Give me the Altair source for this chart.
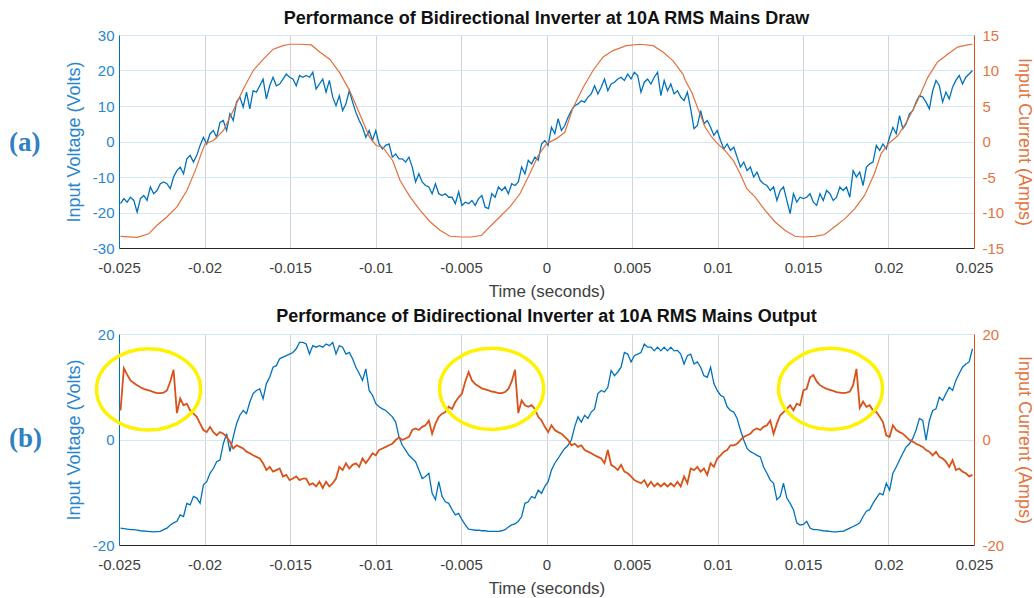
import altair as alt
import numpy as np
import pandas as pd

# ---------------- data ----------------
X_TICKS = [-0.025, -0.02, -0.015, -0.01, -0.005, 0, 0.005, 0.01, 0.015, 0.02, 0.025]
A_VOLT_TICKS = [-30, -20, -10, 0, 10, 20, 30]
A_AMP_TICKS = [-15, -10, -5, 0, 5, 10, 15]
B_TICKS = [-20, 0, 20]

# (a) input voltage, evenly sampled from -0.02491 s to 0.02491 s
a_voltage = [
    -17.5, -16.1, -17.1, -15.7, -16.6, -19.9, -16.1, -15.2, -16.6, -12.8,
    -14.7, -13.8, -11.9, -11.4, -11.9, -13.3, -10.0, -8.2, -7.2, -9.1,
    -4.9, -3.9, -5.8, -3.9, -1.1, 1.2, -0.7, 2.2, 3.1, 1.2,
    5.4, 5.9, 3.1, 7.8, 5.9, 11.1, 12.5, 9.7, 13.9, 9.2,
    14.3, 13.9, 15.7, 17.6, 12.0, 15.7, 18.1, 15.7, 16.2, 17.6,
    19.0, 18.1, 17.6, 15.7, 18.6, 18.1, 18.6, 18.1, 19.5, 14.8,
    16.2, 17.6, 13.9, 17.2, 12.5, 10.1, 12.9, 8.7, 10.6, 14.3,
    11.1, 8.2, 5.9, 4.0, 1.2, 3.1, 0.3, 3.1, -0.7, -2.1,
    -1.1, -0.7, -4.4, -3.5, -4.9,
    -4.9, -5.8, -4.4, -7.2, -11.4, -9.1, -11.4, -12.4, -12.8, -14.7,
    -11.9, -14.7, -15.2, -14.7, -15.7, -15.7, -17.5, -14.2, -18.0, -17.1,
    -17.5, -16.6, -18.0, -16.1, -15.2, -18.5, -18.9, -14.7, -15.7, -12.8,
    -13.8, -12.8, -14.7, -11.9, -12.4, -11.4, -7.2, -9.1, -5.3, -6.3,
    -4.4, -5.3, -0.7, 0.3, -1.1, 4.0, 2.2, 6.4, 3.1, 4.5,
    6.8, 8.7, 10.1, 10.6, 11.5, 11.1, 12.5, 13.4, 15.7, 13.4,
    15.3, 17.6, 14.3, 16.2, 16.7, 17.6, 18.1, 17.2, 19.0, 17.6,
    19.5, 18.6, 13.9, 16.7, 17.6, 16.2, 18.1, 19.5, 12.9, 17.2,
    14.3, 16.2, 13.4, 14.3, 12.5, 11.5,
    13.9, 9.2, 3.6, 4.5, 8.7, 5.0, 5.9, 4.0, 1.7, 3.1,
    0.3, -2.1, -0.7, -2.5, -1.6, -4.4, -7.2, -5.8, -8.2, -7.2,
    -10.0, -8.6, -11.0, -11.9, -12.4, -13.8, -12.8, -16.6, -13.8, -12.8,
    -16.6,
    -20.3, -14.7, -17.1, -15.7, -16.1, -15.7, -14.7, -17.1, -18.0, -14.7,
    -16.6, -13.8, -14.7, -16.6, -15.7, -12.8, -13.8, -12.8, -15.7, -8.2,
    -10.0, -8.6, -12.4, -7.2, -6.3, -5.8, -1.1, -2.5, -0.7, -2.1,
    1.2, 4.0, 2.2, 7.3, 3.6, 5.0, 7.8, 8.7, 11.1, 12.9,
    12.5, 11.1, 9.2, 14.3, 17.2, 15.7, 11.1, 13.9, 12.0, 15.3,
    17.2, 18.6, 16.2, 18.1, 19.0, 20.0,
]

# (a) input current, sampled at these times (ms)
a_current_ms = [
    -24.91, -23.94, -23.26, -22.78, -22.19, -21.61, -21.03, -20.54, -20.16, -19.96,
    -19.48, -18.89, -18.31, -17.73, -17.15, -16.56, -15.98, -15.40, -15.01, -14.43,
    -13.75, -13.26, -12.68, -12.10, -11.52, -10.93, -10.35, -9.96, -9.57, -8.99,
    -8.56, -7.98, -7.39, -6.81, -6.23, -5.64, -5.02, -4.38, -3.79, -3.31,
    -2.72, -2.14, -1.56, -0.97, -0.49, 0.0, 0.58, 1.07, 1.56, 2.14,
    2.72, 3.31, 3.89, 4.67, 5.45, 6.23, 6.81, 7.39, 7.98, 8.12,
    8.50, 8.89, 9.28, 9.67, 10.0, 10.45, 10.93, 11.32, 11.71, 12.19,
    12.78, 13.36, 13.94, 14.52, 15.01, 15.69, 16.27, 16.85, 17.44, 18.02,
    18.60, 19.18, 19.57, 20.0, 20.54, 21.12, 21.71, 22.29, 22.87, 23.46,
    24.04, 24.62, 24.91,
]
a_current = [
    -13.35, -13.5, -13.0, -11.8, -10.6, -9.2, -6.9, -4.1, -1.5, -0.3,
    0.14, 1.55, 4.4, 7.4, 10.0, 11.6, 13.0, 13.5, 13.7, 13.7,
    13.6, 12.6, 11.6, 9.7, 7.2, 3.9, 0.6, -0.56, -0.8, -2.7,
    -5.5, -7.8, -9.7, -11.3, -12.5, -13.35, -13.45, -13.45, -13.2, -12.0,
    -10.6, -9.2, -7.4, -4.5, -2.0, -0.3, 0.4, 1.3, 4.8, 7.6,
    10.0, 11.9, 12.8, 13.5, 13.7, 13.5, 12.6, 11.4, 9.5, 8.6,
    6.9, 4.4, 2.0, 0.6, -0.3, -1.3, -2.7, -4.5, -6.65, -7.8,
    -9.7, -11.3, -12.5, -13.35, -13.45, -13.35, -13.1, -12.0, -10.9, -9.5,
    -7.6, -4.5, -1.7, -0.3, 0.8, 3.0, 5.8, 9.0, 11.2, 12.3,
    13.3, 13.6, 13.7,
]

# (b) input voltage, evenly sampled from -0.02491 s to 0.02491 s
b_voltage = [
    -16.8, -16.9, -17.0, -17.1, -17.1, -17.2, -17.3, -17.35, -17.4, -17.45,
    -17.5, -17.45, -17.4, -17.1, -16.8, -16.2, -15.8, -15.5, -14.3, -14.6,
    -12.1, -12.4, -10.8, -11.1, -12.1, -8.6, -8.0, -6.4, -5.5, -4.2,
    -3.9, -0.8, 1.1, -2.3, 0.5, 3.0, 4.6, 5.5, 4.9, 7.1,
    8.7, 9.3, 9.6, 7.7, 10.6, 11.8, 13.7, 14.0, 15.3, 15.6,
    15.9, 16.2, 16.5, 17.2, 18.4, 18.4, 18.1, 16.2, 17.8, 17.5,
    17.8, 17.5, 18.1, 17.8, 18.4, 16.2, 17.8, 17.5, 16.2, 16.5,
    15.3, 13.7, 12.5, 11.2, 13.4, 9.3, 8.4, 6.8, 6.2, 5.8,
    5.5, 4.9, 4.3, 3.3, 0.5,
    -1.1, -2.0, -3.0, -3.6, -4.2, -5.8, -7.4, -7.0, -6.4, -10.2,
    -11.4, -8.0, -10.8, -11.8, -12.1, -13.3, -14.3, -14.0, -15.2, -16.2,
    -17.0, -17.1, -17.2, -17.2, -17.3, -17.3, -17.4, -17.4, -17.4, -17.4,
    -17.3, -17.1, -16.6, -16.2, -16.0, -15.5, -14.6, -12.1, -11.8, -10.8,
    -11.1, -9.6, -10.2, -8.9, -8.0, -5.8, -4.5, -3.6, -2.6, -1.7,
    -1.1, -0.1, 2.4, 4.3, 3.3, 4.6, 4.0, 5.2, 5.8, 8.7,
    9.3, 9.0, 9.9, 13.1, 12.1, 12.8, 13.7, 16.5, 16.2, 14.7,
    15.9, 16.2, 16.5, 18.1, 17.5, 17.5, 16.8, 17.5, 16.8, 17.5,
    16.8, 17.5, 16.8, 16.9, 16.2, 14.3,
    15.9, 16.2, 14.3, 14.7, 13.7, 12.1, 11.8, 13.7, 10.6, 9.3,
    8.4, 8.0, 6.2, 5.5, 5.2, 4.0, 1.8, -0.1, -1.7, -2.3,
    -2.6, -3.0, -3.3, -5.2, -6.4, -7.7, -8.3, -11.4, -10.8, -8.3,
    -11.1, -12.1, -13.3, -15.8, -16.2, -16.1, -15.5, -16.8, -17.1, -17.1,
    -17.2, -17.3, -17.35, -17.4, -17.5, -17.5, -17.4, -17.4, -17.1, -16.8,
    -16.5, -16.2, -15.8, -14.6, -13.6, -13.3, -12.1, -11.1, -10.2, -10.5,
    -8.3, -9.6, -6.4, -5.2, -3.9, -2.6, -1.4, -0.8, 0.2, 1.8,
    4.0, 3.6, -0.1, 3.6, 5.5, 5.8, 8.0, 7.4, 8.7, 9.9,
    9.3, 11.2, 12.5, 13.7, 14.3, 14.7, 17.2,
]

# (b) input current, same even sampling
b_current = [
    5.5, 13.5, 12.3, 11.2, 10.7, 10.3, 9.9, 9.6, 9.4, 9.2,
    9.0, 8.8, 8.8, 8.9, 9.3, 11.0, 13.2, 5.0, 7.8, 6.5,
    6.8, 5.5, 4.9, 4.3, 3.0, 1.8, 1.4, 2.4, 1.4, 0.8,
    1.4, 1.1, 0.5, -0.4, -1.7, -1.1, -1.4, -1.7, -2.3, -2.6,
    -3.0, -3.3, -3.6, -4.5, -5.8, -5.2, -6.1, -5.8, -5.5, -7.0,
    -6.7, -7.7, -7.4, -7.0, -7.7, -7.4, -7.4, -8.6, -8.3, -8.9,
    -8.0, -9.2, -8.0, -8.9, -8.3, -7.4, -5.2, -5.8, -4.5, -5.5,
    -4.8, -4.5, -5.2, -3.6, -4.5, -3.6, -2.6, -3.0, -2.0, -1.7,
    -1.4, -1.1, -0.8, -0.1, 0.4,
    -0.1, 0.2, 0.5, 1.8, 2.1, 1.8, 2.4, 2.7, 3.6, 1.1,
    3.0, 4.3, 4.9, 5.2, 6.2, 5.8, 7.1, 8.0, 8.7, 11.0,
    12.8, 11.2, 10.5, 10.1, 9.7, 9.5, 9.3, 9.1, 9.0, 8.8,
    8.8, 9.0, 9.6, 11.0, 13.2, 5.0, 7.4, 6.5, 6.2, 6.5,
    5.8, 4.3, 3.6, 2.4, 1.4, 2.7, 1.8, 1.4, 1.1, 0.5,
    -0.1, -1.1, -0.8, -1.4, -1.1, -2.0, -2.3, -2.6, -3.0, -3.3,
    -3.6, -4.5, -2.0, -4.8, -5.2, -5.8, -4.8, -6.1, -6.4, -7.0,
    -7.7, -8.0, -8.3, -7.7, -8.9, -8.0, -8.9, -8.3, -8.9, -8.3,
    -8.9, -8.3, -8.9, -8.0, -8.9, -7.0,
    -8.3, -5.5, -5.8, -5.2, -6.1, -5.5, -6.7, -4.5, -5.2, -3.6,
    -3.0, -2.3, -2.0, -1.1, -1.1, -0.8, -0.1, 0.5, 0.8, 1.1,
    1.8, 2.1, 1.8, 2.4, 2.7, 3.6, 1.1, 3.0, 4.6, 5.2,
    5.8, 6.5, 5.5, 6.8, 6.5, 9.3, 9.6, 11.8, 12.2, 11.0,
    10.3, 9.9, 9.6, 9.4, 9.2, 9.0, 8.9, 8.8, 8.9, 9.1,
    10.3, 13.4, 6.0, 7.2, 6.2, 6.5, 5.5, 5.2, 4.3, 3.3,
    0.8, 0.5, 2.7, 1.8, 1.4, 1.1, 0.5, -0.1, -0.4, -0.8,
    -1.1, -1.4, -2.0, -2.3, -3.0, -2.3, -3.3, -3.6, -4.2, -5.2,
    -3.9, -5.8, -5.5, -6.1, -6.4, -7.0, -6.7,
]

# yellow highlight ellipses in (b): centre time (s), centre current (A)
ell_t = [-0.02327, -0.00321, 0.01661]
ell_i = [9.5, 9.6, 9.6]

# ---------------- styling ----------------
BLUE = "#0072BD"
ORANGE = "#D95319"
ORANGE_THIN = "#E2703C"
BLUE_TXT = "#2A86CC"
ORANGE_TXT = "#E4743E"
AX_TXT = "#404040"
FONT = "Liberation Sans"

t_grid = np.linspace(-0.02491, 0.02491, len(a_voltage))
df_av = pd.DataFrame({"t": t_grid, "v": a_voltage})
df_ai = pd.DataFrame({"t": np.array(a_current_ms) / 1000.0, "i": a_current})
t_grid_b = np.linspace(-0.02491, 0.02491, len(b_voltage))
df_bv = pd.DataFrame({"t": t_grid_b, "v": b_voltage})
df_bi = pd.DataFrame({"t": t_grid_b, "i": b_current})
df_e = pd.DataFrame({"t": ell_t, "i": ell_i})
one = pd.DataFrame({"k": [0]})

ELLIPSE = "M -1 0 A 1 0.78 0 1 1 1 0 A 1 0.78 0 1 1 -1 0 Z"


def x_enc():
    return alt.X(
        "t:Q",
        scale=alt.Scale(domain=[-0.025, 0.025], nice=False, zero=False),
        axis=alt.Axis(
            values=X_TICKS, title="Time (seconds)", labelExpr="'' + datum.value",
            grid=True, gridColor="#D4D4D4", gridWidth=1, ticks=False,
            domainColor="#262626", labelColor=AX_TXT, titleColor=AX_TXT,
            labelFontSize=15, titleFontSize=17, titleFontWeight="normal",
            labelPadding=12, titlePadding=8, labelFlush=False, labelOverlap=False,
            labelFont=FONT, titleFont=FONT,
        ),
    )


def panel(df_v, df_i, v_dom, v_ticks, i_dom, i_ticks, title, tag, h, ell=None,
          i_color=ORANGE_THIN, i_width=1.2, v_width=1.3, title_y=-16, tag_y=108):
    left = alt.Axis(
        values=v_ticks, title="Input Voltage (Volts)", orient="left",
        labelExpr="'' + datum.value", grid=True, gridColor="#D6E7F4", ticks=False,
        domainColor=BLUE, labelColor=BLUE_TXT, titleColor=BLUE_TXT,
        labelFontSize=15, titleFontSize=18, titleFontWeight="normal",
        labelPadding=5, titlePadding=9, labelFont=FONT, titleFont=FONT,
    )
    right = alt.Axis(
        values=i_ticks, title="Input Current (Amps)", orient="right",
        labelExpr="'' + datum.value", grid=False, ticks=False,
        domainColor=ORANGE, labelColor=ORANGE_TXT, titleColor=ORANGE_TXT,
        labelFontSize=15, titleFontSize=18, titleFontWeight="normal",
        labelPadding=8, titlePadding=11, labelFont=FONT, titleFont=FONT,
    )
    vline = alt.Chart(df_v).mark_line(color=BLUE, strokeWidth=v_width).encode(
        x=x_enc(),
        y=alt.Y("v:Q", scale=alt.Scale(domain=v_dom, nice=False, zero=False), axis=left),
    )
    ttl = alt.Chart(one).mark_text(
        text=title, fontSize=18, fontWeight="bold", font=FONT, color="#111111",
        align="center", baseline="middle",
    ).encode(x=alt.value(427.5), y=alt.value(title_y))
    tg = alt.Chart(one).mark_text(
        text=tag, fontSize=27, fontWeight="bold", font="Liberation Serif", color="#2F80C4",
        align="left", baseline="middle",
    ).encode(x=alt.value(-110), y=alt.value(tag_y))
    left_group = alt.layer(vline, ttl, tg)

    iline = alt.Chart(df_i).mark_line(color=i_color, strokeWidth=i_width).encode(
        x=x_enc(),
        y=alt.Y("i:Q", scale=alt.Scale(domain=i_dom, nice=False, zero=False), axis=right),
    )
    right_layers = [iline]
    if ell is not None:
        right_layers.append(
            alt.Chart(ell).mark_point(
                shape=ELLIPSE, filled=False, stroke="#FFF200", strokeWidth=3.5,
                opacity=1, size=10816,
            ).encode(x="t:Q", y="i:Q")
        )
    right_group = alt.layer(*right_layers)
    return alt.layer(left_group, right_group).resolve_scale(y="independent").properties(
        width=855, height=h
    )


pa = panel(df_av, df_ai, [-30, 30], A_VOLT_TICKS, [-15, 15], A_AMP_TICKS,
           "Performance of Bidirectional Inverter at 10A RMS Mains Draw", "(a)", 213,
           title_y=-16, tag_y=108)
pb = panel(df_bv, df_bi, [-20, 20], B_TICKS, [-20, 20], B_TICKS,
           "Performance of Bidirectional Inverter at 10A RMS Mains Output", "(b)", 211,
           ell=df_e, i_color=ORANGE, i_width=1.8, v_width=1.3, title_y=-17, tag_y=105)

chart = alt.vconcat(pa, pb, spacing=7).properties(
    padding={"left": 8, "top": 9, "right": 0, "bottom": 3}
).configure_view(stroke="#262626", strokeWidth=1).configure(font=FONT, background="white")

chart.save("out.html", embed_options={"renderer": "svg", "actions": False})
